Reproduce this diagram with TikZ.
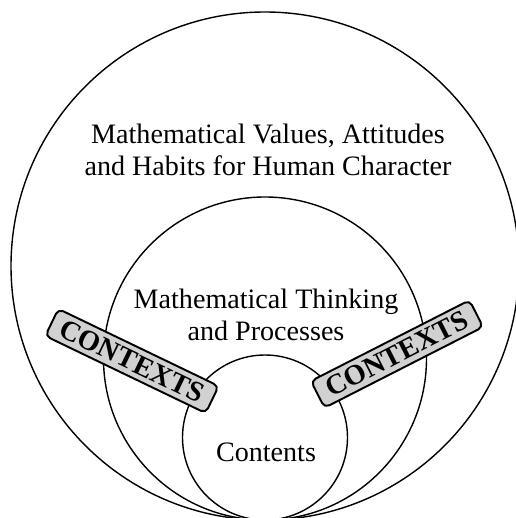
\documentclass[tikz,border=0pt]{standalone}
\usepackage{fontspec}
\setmainfont{Liberation Serif}
\usepackage{tikz}

\begin{document}
\begin{tikzpicture}[x=0.02cm,y=0.02cm,
    ring/.style={line width=0.8pt},
    label/.style={align=center,font=\fontsize{16}{18.5}\selectfont},
    ctxbox/.style={draw,line width=1.1pt,fill=gray!36,rounded corners=3pt,
      inner sep=0pt,minimum width=3.56cm,minimum height=0.6cm,
      font=\fontsize{16.2}{16.2}\selectfont\bfseries}]
  \useasboundingbox (0,0) rectangle (515,518);
  \draw[ring]
    (265,252) circle (254);
  \draw[ring]
    (265,159.5) circle (161.5);
  \draw[ring]
    (265,80.5) circle (82.5);
  \node[label] (values) at (268,368)
    {Mathematical Values, Attitudes\\and Habits for Human Character};
  \node[label] (thinking) at (266,203)
    {Mathematical Thinking\\and Processes};
  \node[label] (contents) at (266,66) {Contents};
  \node[ctxbox,rotate=-25.7] (ctxleft) at (132,157) {CONTEXTS};
  \node[ctxbox,rotate=27] (ctxright) at (397,164) {CONTEXTS};
\end{tikzpicture}
\end{document}
